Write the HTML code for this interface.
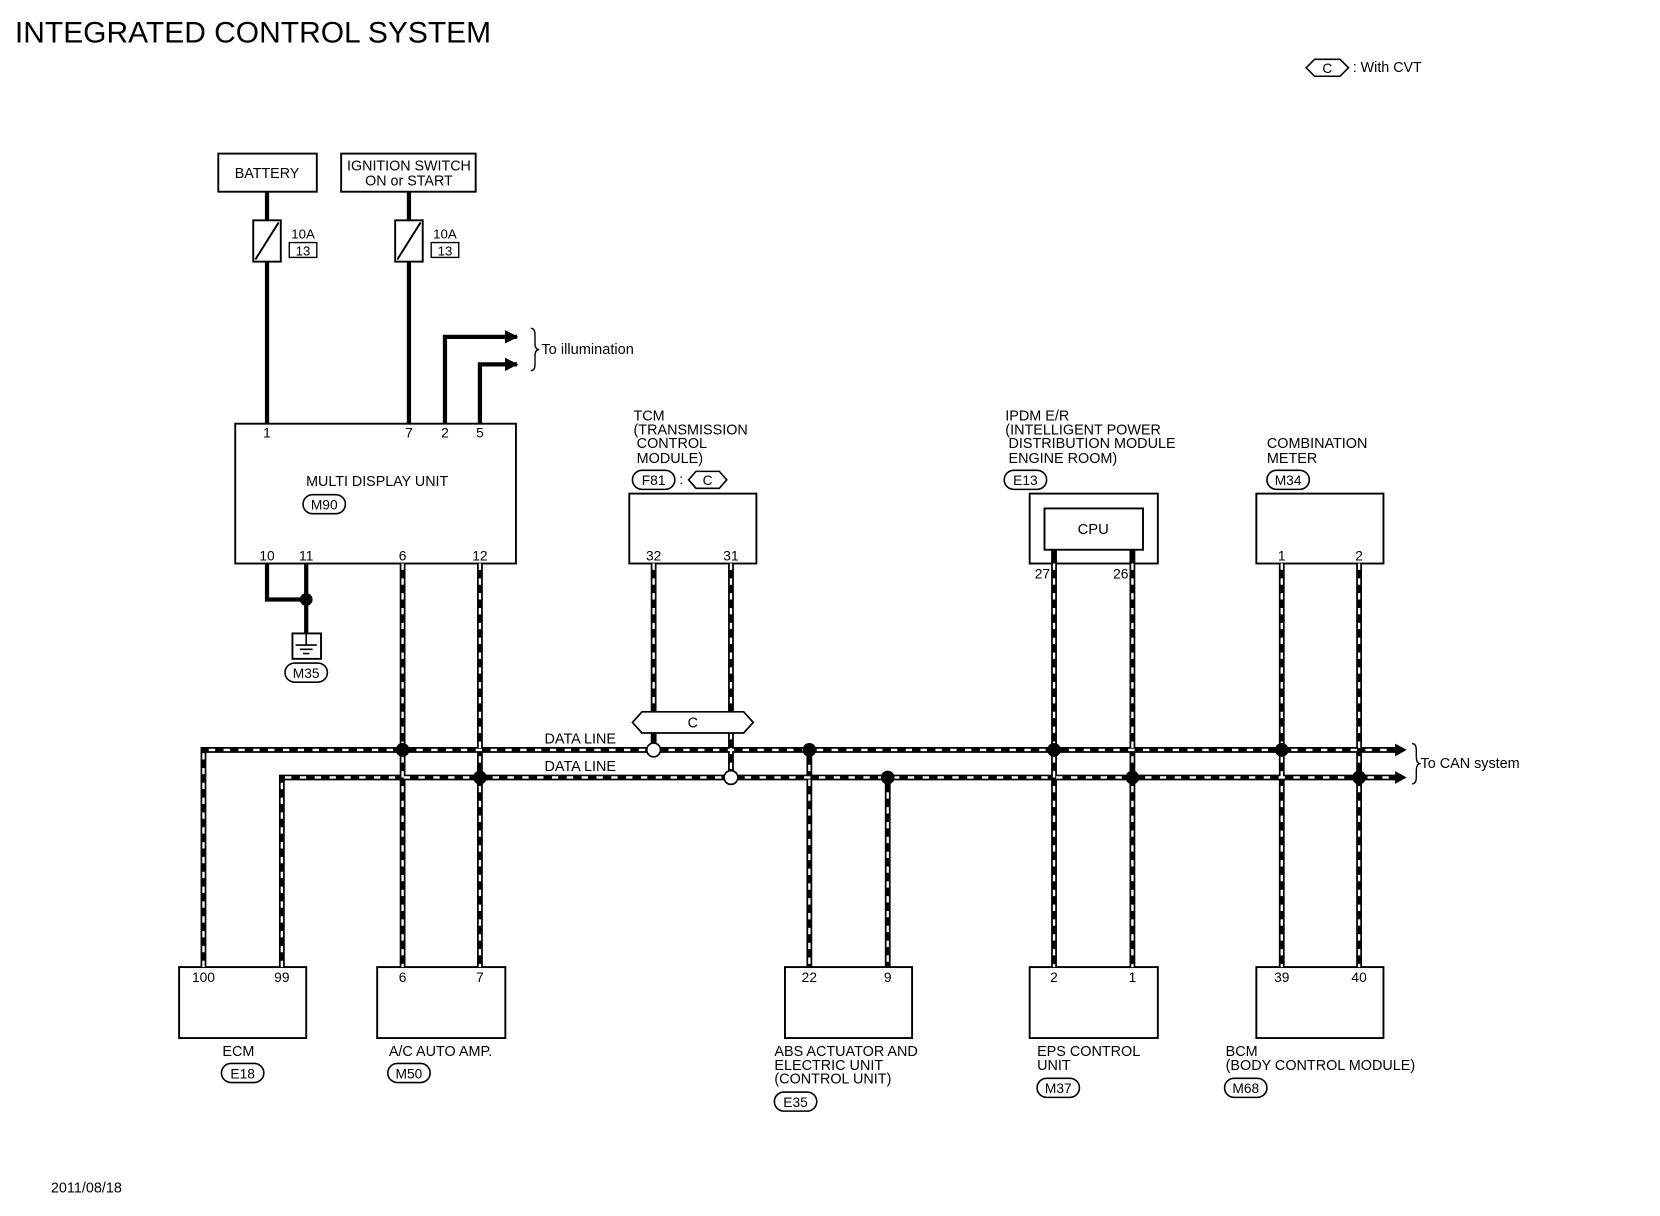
<!DOCTYPE html>
<html><head><meta charset="utf-8"><style>
html,body{margin:0;padding:0;background:#fff;}
svg{display:block;}
text{font-family:"Liberation Sans",Arial,sans-serif;fill:#000;}
</style></head><body>
<svg width="1660" height="1216" viewBox="0 0 1567 1148" xmlns="http://www.w3.org/2000/svg">
<defs>
<marker id="ar" viewBox="0 0 10 10" refX="9" refY="5" markerWidth="3.2" markerHeight="3.2" orient="auto" markerUnits="strokeWidth"><path d="M0,0 L10,5 L0,10 z" fill="#000"/></marker>
</defs>
<rect width="1567" height="1148" fill="#fff"/>
<text x="14" y="40" font-size="28.3">INTEGRATED CONTROL SYSTEM</text>
<!-- legend -->
<polygon points="1233,64 1241,56 1265,56 1273,64 1265,72 1241,72" fill="none" stroke="#000" stroke-width="1.5"/>
<text x="1253" y="69" font-size="13" text-anchor="middle">C</text>
<text x="1277" y="68" font-size="13.5">: With CVT</text>

<g fill="none" stroke="#000" stroke-width="1.8">
<rect x="206" y="145" width="93" height="36"/>
<rect x="322" y="145" width="127" height="36"/>
<rect x="239" y="208" width="26" height="39"/>
<line x1="241" y1="245" x2="263" y2="210"/>
<rect x="373" y="208" width="26" height="39"/>
<line x1="375" y1="245" x2="397" y2="210"/>
<rect x="273" y="229" width="26" height="14" stroke-width="1.3"/>
<rect x="407" y="229" width="26" height="14" stroke-width="1.3"/>
<rect x="222" y="400" width="265" height="132"/>
<rect x="594" y="466" width="120" height="66"/>
<rect x="972" y="466" width="121" height="66"/>
<rect x="986" y="480" width="93" height="39"/>
<rect x="1186" y="466" width="120" height="66"/>
<rect x="169" y="913" width="120" height="67"/>
<rect x="356" y="913" width="121" height="67"/>
<rect x="741" y="913" width="120" height="67"/>
<rect x="972" y="913" width="121" height="67"/>
<rect x="1186" y="913" width="120" height="67"/>
<rect x="276" y="598" width="27" height="24"/>
</g>
<text x="252" y="168" font-size="13.5" text-anchor="middle">BATTERY</text>
<text x="386" y="161" font-size="13.5" text-anchor="middle">IGNITION SWITCH</text>
<text x="386" y="175" font-size="13.5" text-anchor="middle">ON or START</text>
<text x="286" y="225" font-size="12.5" text-anchor="middle">10A</text>
<text x="286" y="241" font-size="12.5" text-anchor="middle">13</text>
<text x="420" y="225" font-size="12.5" text-anchor="middle">10A</text>
<text x="420" y="241" font-size="12.5" text-anchor="middle">13</text>

<!-- solid wires -->
<g fill="none" stroke="#000" stroke-width="4">
<line x1="252" y1="181" x2="252" y2="208"/><line x1="252" y1="247" x2="252" y2="400"/>
<line x1="386" y1="181" x2="386" y2="208"/><line x1="386" y1="247" x2="386" y2="400"/>
<polyline points="420,400 420,318 488,318" marker-end="url(#ar)"/>
<polyline points="453,400 453,344 488,344" marker-end="url(#ar)"/>
<polyline points="252,532 252,566 289,566"/>
<line x1="289" y1="532" x2="289" y2="598"/>
</g>
<path d="M501,310 q4,0 4,6 v8 q0,6 4,6 q-4,0 -4,6 v8 q0,6 -4,6" fill="none" stroke="#000" stroke-width="1.3"/>
<text x="511" y="334" font-size="13.8">To illumination</text>
<circle cx="289" cy="566" r="6" fill="#000"/>
<g stroke="#000" stroke-width="1.5"><line x1="289" y1="598" x2="289" y2="609"/><line x1="279" y1="609" x2="299" y2="609"/><line x1="283" y1="613" x2="295" y2="613"/><line x1="286" y1="617" x2="292" y2="617"/></g>
<g font-size="13" text-anchor="middle">
<text x="252" y="413">1</text><text x="386" y="413">7</text><text x="420" y="413">2</text><text x="453" y="413">5</text>
<text x="252" y="529">10</text><text x="289" y="529">11</text><text x="380" y="529">6</text><text x="453" y="529">12</text>
<text x="617" y="529">32</text><text x="690" y="529">31</text>
<text x="1210" y="529">1</text><text x="1283" y="529">2</text>
<text x="192" y="927">100</text><text x="266" y="927">99</text>
<text x="380" y="927">6</text><text x="453" y="927">7</text>
<text x="764" y="927">22</text><text x="838" y="927">9</text>
<text x="995" y="927">2</text><text x="1069" y="927">1</text>
<text x="1210" y="927">39</text><text x="1283" y="927">40</text>
</g>
<text x="984" y="546" font-size="13" text-anchor="middle">27</text>
<text x="1058" y="546" font-size="13" text-anchor="middle">26</text>
<text x="356" y="459" font-size="13.5" text-anchor="middle">MULTI DISPLAY UNIT</text>
<text x="1032" y="504" font-size="14" text-anchor="middle">CPU</text>

<!-- ovals -->
<g fill="none" stroke="#000" stroke-width="1.5">
<rect x="286" y="467" width="40" height="18" rx="9"/>
<rect x="269" y="626" width="40" height="18" rx="9"/>
<rect x="597" y="444" width="40" height="18" rx="9"/>
<rect x="948" y="444" width="40" height="18" rx="9"/>
<rect x="1196" y="444" width="40" height="18" rx="9"/>
<rect x="209" y="1004" width="40" height="18" rx="9"/>
<rect x="366" y="1004" width="40" height="18" rx="9"/>
<rect x="731" y="1031" width="40" height="18" rx="9"/>
<rect x="979" y="1018" width="40" height="18" rx="9"/>
<rect x="1156" y="1018" width="40" height="18" rx="9"/>
<polygon points="650,453 657,445 679,445 686,453 679,461 657,461"/>
</g>
<g font-size="13" text-anchor="middle">
<text x="306" y="481">M90</text><text x="289" y="640">M35</text>
<text x="617" y="458">F81</text><text x="968" y="458">E13</text><text x="1216" y="458">M34</text>
<text x="229" y="1018">E18</text><text x="386" y="1018">M50</text><text x="751" y="1045">E35</text>
<text x="999" y="1032">M37</text><text x="1176" y="1032">M68</text>
<text x="668" y="458">C</text><text x="643" y="457">:</text>
</g>

<!-- labels -->
<g font-size="13.6">
<text x="598" y="397">TCM</text><text x="598" y="410">(TRANSMISSION</text><text x="601" y="423">CONTROL</text><text x="601" y="437">MODULE)</text>
<text x="949" y="397">IPDM E/R</text><text x="949" y="410">(INTELLIGENT POWER</text><text x="952" y="423">DISTRIBUTION MODULE</text><text x="952" y="437">ENGINE ROOM)</text>
<text x="1196" y="423">COMBINATION</text><text x="1196" y="437">METER</text>
<text x="225" y="997" text-anchor="middle">ECM</text>
<text x="367" y="997">A/C AUTO AMP.</text>
<text x="731" y="997">ABS ACTUATOR AND</text><text x="731" y="1010">ELECTRIC UNIT</text><text x="731" y="1023">(CONTROL UNIT)</text>
<text x="979" y="997">EPS CONTROL</text><text x="979" y="1010">UNIT</text>
<text x="1157" y="997">BCM</text><text x="1157" y="1010">(BODY CONTROL MODULE)</text>
<text x="514" y="702">DATA LINE</text><text x="514" y="728">DATA LINE</text>
<text x="1341" y="725">To CAN system</text>
<text x="48" y="1126">2011/08/18</text>
</g>

<!-- CAN wires black -->
<g fill="none" stroke="#000" stroke-width="5.5">
<polyline points="192,913 192,708 1318,708"/>
<polyline points="266,913 266,734 1318,734"/>
<line x1="380" y1="532" x2="380" y2="913"/><line x1="453" y1="532" x2="453" y2="913"/>
<line x1="617" y1="532" x2="617" y2="672"/><line x1="690" y1="532" x2="690" y2="672"/>
<line x1="617" y1="692" x2="617" y2="702"/><line x1="690" y1="692" x2="690" y2="728"/>
<line x1="764" y1="708" x2="764" y2="913"/><line x1="838" y1="734" x2="838" y2="913"/>
<line x1="995" y1="519" x2="995" y2="913"/><line x1="1069" y1="519" x2="1069" y2="913"/>
<line x1="1210" y1="532" x2="1210" y2="913"/><line x1="1283" y1="532" x2="1283" y2="913"/>
</g>
<g fill="none" stroke="#fff" stroke-width="2.2" stroke-dasharray="6,8">
<polyline points="192,913 192,708 1318,708"/>
<polyline points="266,913 266,734 1318,734"/>
<line x1="380" y1="532" x2="380" y2="913"/><line x1="453" y1="532" x2="453" y2="913"/>
<line x1="617" y1="532" x2="617" y2="672"/><line x1="690" y1="532" x2="690" y2="672"/>
<line x1="690" y1="692" x2="690" y2="728"/>
<line x1="764" y1="708" x2="764" y2="913"/><line x1="838" y1="734" x2="838" y2="913"/>
<line x1="995" y1="532" x2="995" y2="913"/><line x1="1069" y1="532" x2="1069" y2="913"/>
<line x1="1210" y1="532" x2="1210" y2="913"/><line x1="1283" y1="532" x2="1283" y2="913"/>
</g>
<polygon points="1317,702 1328,708 1317,714" fill="#000"/>
<polygon points="1317,728 1328,734 1317,740" fill="#000"/>
<path d="M1333,702 q4,0 4,6 v6 q0,7 4,7 q-4,0 -4,7 v6 q0,6 -4,6" fill="none" stroke="#000" stroke-width="1.3"/>
<!-- C connector -->
<polygon points="597,682 606,672 702,672 711,682 702,692 606,692" fill="#fff" stroke="#000" stroke-width="1.6"/>
<text x="654" y="687" font-size="13.5" text-anchor="middle">C</text>
<!-- junctions -->
<g fill="#000">
<circle cx="380" cy="708" r="6.5"/><circle cx="453" cy="734" r="6.5"/>
<circle cx="764" cy="708" r="6.5"/><circle cx="838" cy="734" r="6.5"/>
<circle cx="995" cy="708" r="6.5"/><circle cx="1069" cy="734" r="6.5"/>
<circle cx="1210" cy="708" r="6.5"/><circle cx="1283" cy="734" r="6.5"/>
</g>
<circle cx="617" cy="708" r="6.5" fill="#fff" stroke="#000" stroke-width="1.6"/>
<circle cx="690" cy="734" r="6.5" fill="#fff" stroke="#000" stroke-width="1.6"/>
</svg>
</body></html>
